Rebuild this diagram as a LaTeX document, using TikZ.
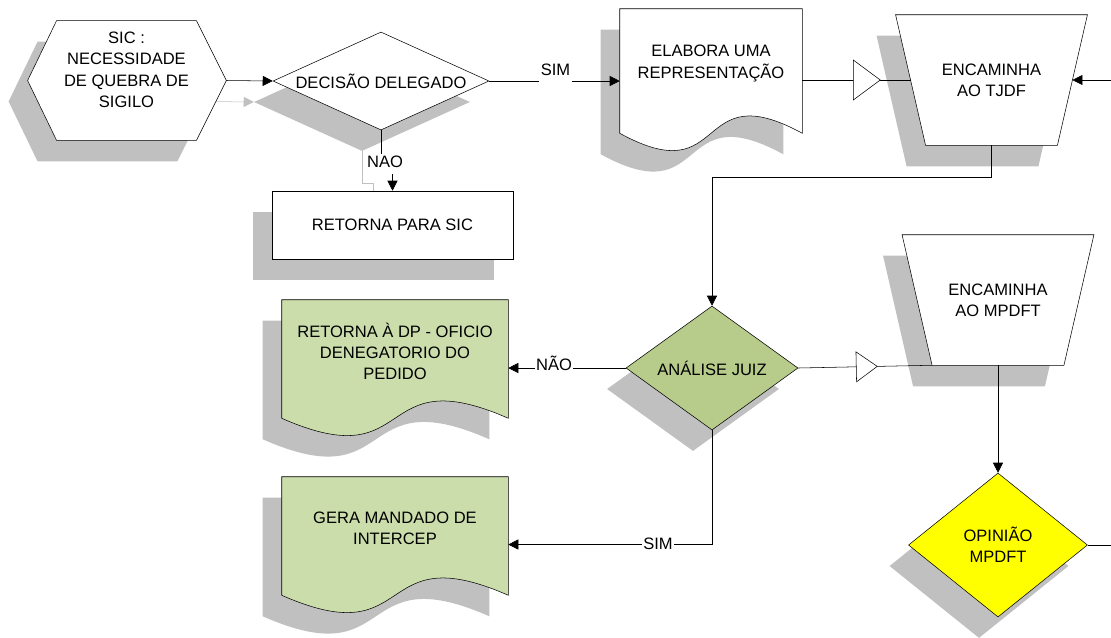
\documentclass[tikz,border=0pt]{standalone}
\usepackage{fontspec}
\setmainfont{Liberation Sans}
\usetikzlibrary{shapes.geometric,arrows.meta,calc,shadows,decorations.markings}
\pgfdeclarelayer{back}
\pgfdeclarelayer{bg}
\pgfsetlayers{back,bg,main}

\definecolor{shadowgray}{RGB}{192,192,192}
\definecolor{juizgreen}{RGB}{183,203,139}
\definecolor{docgreen}{RGB}{204,221,172}
\definecolor{mpyellow}{RGB}{255,255,0}

\tikzset{boxshadow/.style={drop shadow={shadow xshift=-14.25pt,shadow yshift=-15.75pt,opacity=1,fill=shadowgray}}}

% outlines go behind the text nodes
\newcommand{\hexout}[1]{%
\begin{pgfonlayer}{bg}
\draw[fill=white,boxshadow] (#1.north west) -- (#1.north east) -- ($(#1.east)+(30,0)$) -- (#1.south east) -- (#1.south west) -- ($(#1.west)+(-29,0)$) -- cycle;
\end{pgfonlayer}}
\newcommand{\trapout}[1]{%
\begin{pgfonlayer}{bg}
\draw[fill=white,boxshadow] ($(#1.north west)+(-30,0)$) -- ($(#1.north east)+(30,0)$) -- (#1.south east) -- (#1.south west) -- cycle;
\end{pgfonlayer}}
\newcommand{\docout}[2]{%
\begin{pgfonlayer}{bg}
\draw[fill=#2,boxshadow] let \p1=($(#1.south west)+(0,15)$), \p2=($(#1.south east)+(0,15)$), \n1={\x2-\x1} in
 (#1.north west) -- (#1.north east) -- (\p2) .. controls (\x2-0.6*\n1,\y2+45pt) and (\x1+0.6*\n1,\y1-45pt) .. (\p1) -- cycle;
\end{pgfonlayer}}

\begin{document}
\begin{tikzpicture}[x=0.75pt,y=-0.75pt,line width=0.6pt,>={Triangle[length=7.5pt,width=7.5pt]},
  every node/.style={font=\fontsize{12.4pt}{16pt}\selectfont,align=center},
  hexbox/.style={minimum width=104.25pt,minimum height=89.25pt,inner sep=0pt},
  trapbox/.style={minimum width=98.5pt,minimum height=97.5pt,inner sep=0pt},
  docbox/.style 2 args={minimum width=#1,minimum height=#2,inner sep=0pt},
  decision/.style={diamond,draw,inner sep=0pt,boxshadow},
  procbox/.style={rectangle,draw,fill=white,minimum width=180.75pt,minimum height=51pt,boxshadow},
  link/.style={->},
  linkshadow/.style={draw=shadowgray,->,transform canvas={xshift=-14.25pt,yshift=-15.75pt}},
  lbl/.style={fill=white,inner xsep=1pt,inner ysep=1pt,text depth=4.5pt,anchor=base},
  opentri/.style n args={3}{postaction={decorate},decoration={markings,
    mark=at position #1 with {\draw[fill=white,solid] (0pt,0pt) -- (-#2,#3) -- (-#2,-#3) -- cycle;}}}]
\useasboundingbox (0,0) rectangle (1111,637);

% top row
\node[hexbox] (sic) at (126.5,80.5) {SIC :\\NECESSIDADE\\DE QUEBRA DE\\SIGILO\\\mbox{}};
\hexout{sic}
\coordinate (sic-e) at ($(sic.east)+(30,0)$);
\node[decision,fill=white,minimum width=162pt,minimum height=73.5pt,aspect=2.2] (dec) at (381,81) {DECISÃO DELEGADO};
\node[procbox] (ret) at (392.5,225) {RETORNA PARA SIC};
\node[docbox={136.5pt}{81.75pt}] (elab) at (711,63.5) {ELABORA UMA\\REPRESENTAÇÃO};
\docout{elab}{white}
\node[trapbox] (tj) at (991.5,80) {ENCAMINHA\\AO TJDF};
\trapout{tj}
\coordinate (tj-w) at ($(tj.west)+(-15,0)$);
\coordinate (tj-e) at ($(tj.east)+(15,0)$);
\coordinate (in-tj) at (1116,80);

% lower part
\node[decision,fill=juizgreen,minimum width=129pt,minimum height=93pt,aspect=1.4] (jz) at (712,368) {ANÁLISE JUIZ};
\node[trapbox] (mp) at (998,300) {ENCAMINHA\\AO MPDFT};
\trapout{mp}
\node[decision,fill=mpyellow,minimum width=134.25pt,minimum height=108pt,aspect=1.25] (op) at (998,545) {OPINIÃO\\MPDFT};
\coordinate (out-op) at (1116,545);
\node[docbox={169.5pt}{77.25pt}] (ret2) at (395,351.5) {RETORNA À DP - OFICIO\\DENEGATORIO DO\\PEDIDO};
\docout{ret2}{docgreen}
\node[docbox={169.5pt}{77.25pt}] (gera) at (395,528.5) {GERA MANDADO DE\\INTERCEP};
\docout{gera}{docgreen}
\coordinate (sim-turn) at ($(jz.south |- gera.east)+(0,16)$);

% shadows of two connectors
\begin{pgfonlayer}{back}
\draw[linkshadow] (sic-e) -- (dec.west);
\draw[linkshadow] (dec.south) -- ++(0,32) -| (ret.north);
\end{pgfonlayer}

% connectors
\draw[link] (sic-e) -- (dec.west);
\draw[link] (dec.east) -- (dec.east -| elab.west);
\draw[link] (dec.south) -- ++(0,32) -| (ret.north);
\draw[opentri={58.5pt}{20.25pt}{15pt}] (tj-w -| elab.east) -- (tj-w);
\draw[link] (in-tj) -- (tj-e);
\draw[link] (tj.south) -- ++(0,32) -| (jz.north);
\draw[link] (jz.west) -- (jz.west -| ret2.east);
\draw[link] (jz.south) -- (sim-turn) -- (sim-turn -| gera.east);
\draw[opentri={59.25pt}{15.75pt}{11.25pt}] (jz.east) -- (mp.south west);
\draw[link] (mp.south) -- (op.north);
\draw (op.east) -- (out-op);

% labels
\node[lbl] (sim-a) at (555.5,75) {SIM};
\node[lbl] (nao-a) at (385,167) {NAO};
\node[lbl] (nao-b) at (554,370) {NÃO};
\node[lbl] (sim-b) at (658,549) {SIM};
\end{tikzpicture}
\end{document}
